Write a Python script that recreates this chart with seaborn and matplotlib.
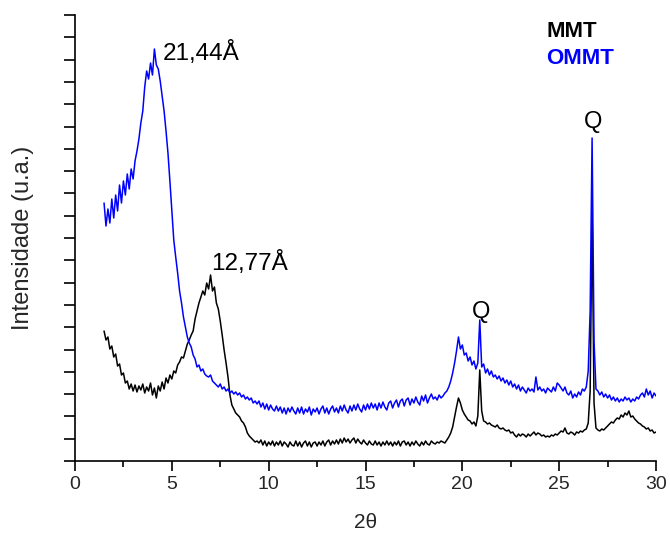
import numpy as np
import pandas as pd
import matplotlib
matplotlib.use("Agg")
import matplotlib.pyplot as plt
import seaborn as sns

# 2theta grid (instrument step 0.1 deg, 1.5 .. 30.0)
two_theta = np.round(np.linspace(1.5, 30.0, 286), 2)

# MMT intensities (a.u.)
mmt = [
    130, 121, 124, 112, 115, 104, 107, 95, 97, 86,
    88, 78, 80, 72, 77, 70, 76, 69, 75, 71,
    77, 68, 74, 70, 78, 66, 73, 63, 75, 70,
    79, 72, 83, 78, 86, 82, 90, 88, 96, 99,
    104, 103, 110, 117, 121, 126, 130, 142, 150, 158,
    164, 170, 166, 178, 172, 186, 170, 174, 158, 152,
    140, 126, 111, 98, 84, 66, 56, 52, 48, 46,
    44, 40, 38, 34, 28, 25, 23, 21, 19, 20,
    18, 21, 16, 20, 15, 19, 16, 20, 15, 19,
    16, 20, 15, 19, 17, 14, 19, 16, 15, 20,
    15, 19, 14, 18, 20, 15, 19, 14, 18, 19,
    15, 19, 16, 20, 15, 19, 21, 16, 20, 17,
    21, 17, 22, 18, 23, 19, 22, 18, 21, 23,
    18, 22, 19, 17, 21, 18, 16, 20, 17, 16,
    20, 16, 19, 15, 19, 16, 20, 16, 19, 15,
    19, 16, 20, 15, 19, 20, 16, 19, 15, 19,
    16, 20, 17, 15, 19, 16, 20, 17, 16, 20,
    18, 17, 19, 18, 20, 19, 18, 21, 24, 28,
    34, 44, 54, 63, 58, 51, 47, 44, 41, 40,
    37, 39, 35, 45, 91, 50, 40, 39, 37, 38,
    36, 35, 34, 36, 33, 32, 33, 31, 30, 31,
    28, 29, 26, 24, 27, 25, 27, 26, 24, 27,
    25, 27, 29, 26, 28, 27, 25, 26, 24, 25,
    24, 26, 25, 27, 26, 28, 30, 29, 33, 28,
    27, 29, 28, 26, 29, 28, 30, 29, 31, 32,
    38, 70, 251, 58, 33, 31, 30, 32, 31, 33,
    35, 37, 39, 38, 41, 43, 42, 46, 44, 48,
    46, 50, 44, 45, 42, 40, 38, 37, 35, 34,
    32, 33, 30, 31, 28, 29,
]

# OMMT intensities (a.u.)
ommt = [
    258, 235, 252, 238, 262, 243, 266, 250, 276, 258,
    280, 266, 287, 272, 292, 282, 300, 310, 322, 338,
    350, 374, 390, 382, 398, 386, 412, 396, 392, 380,
    365, 350, 330, 308, 280, 250, 221, 204, 188, 170,
    158, 144, 134, 124, 118, 114, 106, 102, 94, 96,
    90, 92, 87, 85, 84, 86, 80, 78, 76, 74,
    77, 72, 74, 70, 72, 68, 70, 67, 69, 66,
    68, 64, 66, 62, 64, 61, 63, 58, 60, 57,
    60, 54, 58, 52, 57, 51, 56, 52, 50, 55,
    50, 54, 48, 53, 47, 53, 49, 54, 50, 47,
    53, 48, 54, 47, 52, 49, 54, 46, 52, 49,
    53, 47, 52, 55, 48, 53, 47, 52, 55, 49,
    53, 48, 55, 50, 56, 51, 48, 55, 50, 56,
    51, 57, 52, 49, 56, 51, 57, 52, 58, 53,
    57, 51, 58, 53, 59, 54, 51, 58, 60, 53,
    58, 61, 54, 60, 62, 55, 61, 63, 56, 62,
    58, 64, 59, 56, 65, 60, 66, 58, 63, 67,
    62, 64, 61, 66, 63, 65, 68, 70, 74, 80,
    88, 98, 110, 124, 112, 116, 106, 108, 100, 104,
    96, 100, 92, 98, 141, 94, 97, 88, 92, 86,
    90, 84, 86, 82, 85, 80, 83, 78, 81, 76,
    80, 74, 77, 72, 76, 70, 74, 71, 68, 73,
    70, 72, 69, 84, 71, 74, 70, 72, 68, 73,
    71, 69, 74, 70, 78, 76, 73, 70, 74, 68,
    66, 70, 63, 67, 64, 69, 66, 72, 70, 74,
    90, 150, 323, 120, 72, 70, 66, 69, 64, 67,
    63, 66, 61, 64, 60, 63, 59, 62, 60, 64,
    61, 63, 59, 62, 60, 64, 62, 66, 68, 64,
    72, 66, 70, 63, 68, 65,
]

series_names = ["MMT", "OMMT"]
series_colors = ["#000000", "#0000ff"]

# peak annotations: (text, x, y)
peak_labels = [("21,44Å", 4.52, 401), ("12,77Å", 7.05, 191)]
q_labels = [("Q", 20.96, 143), ("Q", 26.77, 333)]

assert len(mmt) == len(two_theta) and len(ommt) == len(two_theta)

df = pd.DataFrame({
    "2θ": np.concatenate([two_theta, two_theta]),
    "I": np.concatenate([mmt, ommt]),
    "amostra": [series_names[0]] * len(two_theta) + [series_names[1]] * len(two_theta),
})

sns.set_theme(style="ticks")
plt.rcParams["font.family"] = ["Liberation Sans", "DejaVu Sans"]

fig = plt.figure(figsize=(6.7, 5.35), dpi=100)
ax = fig.add_axes([75 / 670, 74 / 535, 581 / 670, 446 / 535])

sns.lineplot(data=df, x="2θ", y="I", hue="amostra", palette=series_colors,
             hue_order=series_names, linewidth=1.1, legend=False, ax=ax,
             estimator=None, sort=False)

ax.set_xlim(0, 30)
ax.set_ylim(0, 446)
ax.set_xticks([0, 5, 10, 15, 20, 25, 30])
ax.set_xticks([2.5, 7.5, 12.5, 17.5, 22.5, 27.5], minor=True)
ax.set_yticks(np.arange(0, 447, 22.3))
ax.set_yticklabels([])
ax.tick_params(axis="x", which="major", length=7, width=1.2, labelsize=14, direction="out", color="black")
ax.tick_params(axis="x", which="minor", length=4.5, width=1.2, direction="out", color="black")
ax.tick_params(axis="y", which="major", length=8, width=1.2, direction="out", color="black")
for s in ["top", "right"]:
    ax.spines[s].set_visible(False)
for s in ["left", "bottom"]:
    ax.spines[s].set_linewidth(1.2)
    ax.spines[s].set_color("black")

ax.set_xlabel("2θ", fontsize=15, labelpad=15)
ax.set_ylabel("Intensidade (u.a.)", fontsize=17, labelpad=18)

for txt, x, y in peak_labels:
    ax.text(x, y, txt, fontsize=17.5, ha="left", va="baseline", color="black")
for txt, x, y in q_labels:
    ax.text(x, y, txt, fontsize=17, ha="center", va="baseline", color="black")

ax.text(0.8107, 0.951, series_names[0], transform=ax.transAxes, fontsize=16,
        fontweight="bold", color=series_colors[0], ha="left", va="baseline")
ax.text(0.8107, 0.890, series_names[1], transform=ax.transAxes, fontsize=16,
        fontweight="bold", color=series_colors[1], ha="left", va="baseline")

fig.savefig("out.png", dpi=100)
